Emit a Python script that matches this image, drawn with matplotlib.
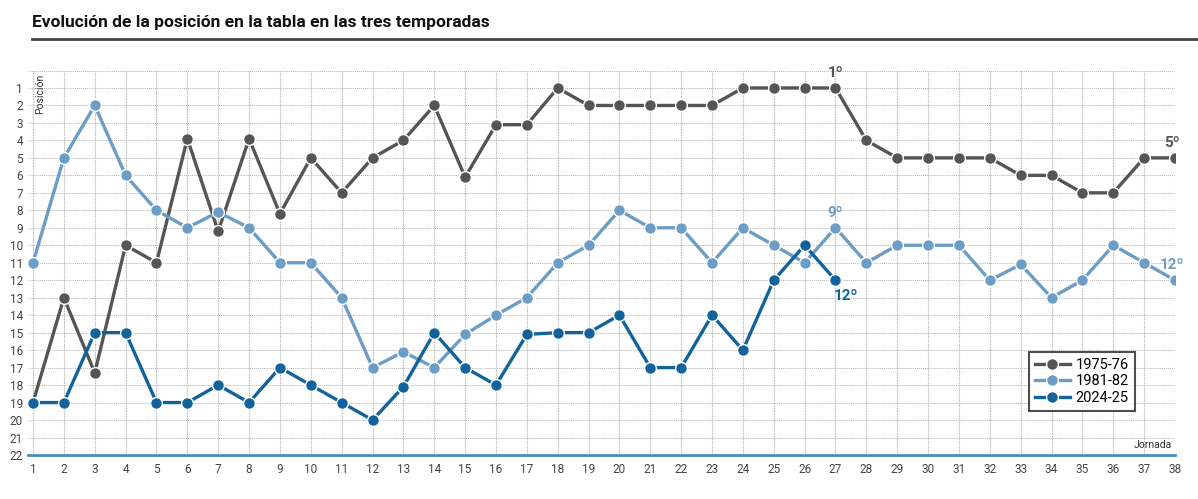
import matplotlib
matplotlib.use("Agg")
import matplotlib.pyplot as plt
from matplotlib.lines import Line2D

plt.rcParams['font.family'] = ['Roboto', 'DejaVu Sans']

jornadas = list(range(1, 39))
pos_1975 = [19, 13, 17.3, 10, 11, 3.9, 9.2, 3.9, 8.2, 5, 7, 5, 4, 2, 6.1, 3.1, 3.1, 1, 2, 2,
            2, 2, 2, 1, 1, 1, 1, 4, 5, 5, 5, 5, 6, 6, 7, 7, 5, 5]
pos_1981 = [11, 5, 2, 6, 8, 9, 8.1, 9, 11, 11, 13, 17, 16.1, 17, 15.1, 14, 13, 11, 10, 8,
            9, 9, 11, 9, 10, 11, 9, 11, 10, 10, 10, 12, 11.1, 13, 12, 10, 11, 12]
pos_2024 = [19, 19, 15, 15, 19, 19, 18, 19, 17, 18, 19, 20, 18.1, 15, 17, 18, 15.1, 15, 15, 14,
            17, 17, 14, 16, 12, 10, 12]
series_labels = ['1975-76', '1981-82', '2024-25']
colors = ['#555555', '#6b9dc6', '#12639b']
y_ticks = list(range(1, 23))

fig = plt.figure(figsize=(11.98, 4.99), dpi=100)
ax = fig.add_axes([0.0237, 0.0882, 0.9571, 0.7705])

ax.set_xlim(0.85, 38)
ax.set_ylim(22, 0)

# grid
for x in jornadas:
    ax.axvline(x, color='#bdbdbd', lw=0.8, ls=(0, (1.5, 0.8)), zorder=0)
for y in range(0, 22):
    ax.axhline(y, color='#b5b5b5', lw=0.7, ls=(0, (1, 1)), zorder=0)

for data, c, lab in zip([pos_1975, pos_1981, pos_2024], colors, series_labels):
    ax.plot(jornadas[:len(data)], data, color=c, lw=2.4, marker='o', ms=8.5,
            mec='white', mew=1.0, label=lab, zorder=3)

for s in ['top', 'right', 'left']:
    ax.spines[s].set_visible(False)
ax.spines['bottom'].set_color('#4a8fc0')
ax.spines['bottom'].set_linewidth(2)

ax.set_xticks(jornadas)
ax.set_xticklabels([str(j) for j in jornadas], fontsize=8.5, color='#444444')
ax.set_yticks(y_ticks)
ax.set_yticklabels([str(v) for v in y_ticks], fontsize=8.5, color='#444444')
ax.tick_params(axis='both', length=0, pad=6)
ax.tick_params(axis='y', pad=4)

# annotations
ax.text(27, 0.55, '1º', color='#555555', fontsize=11, fontweight='bold', ha='center', va='bottom')
ax.text(27, 8.55, '9º', color='#6b9dc6', fontsize=11, fontweight='bold', ha='center', va='bottom')
ax.text(27.35, 12.5, '12º', color='#12639b', fontsize=11, fontweight='bold', ha='center', va='top')
ax.text(37.9, 4.55, '5º', color='#555555', fontsize=11, fontweight='bold', ha='center', va='bottom')
ax.text(37.9, 11.55, '12º', color='#6b9dc6', fontsize=11, fontweight='bold', ha='center', va='bottom')

ax.text(1.08, 0.2, 'Posición', rotation=90, fontsize=7.5, color='#333333', ha='left', va='top')
ax.text(37.9, 21.7, 'Jornada', fontsize=7.5, color='#333333', ha='right', va='bottom')

handles = [Line2D([0], [0], color=c, lw=2.4, marker='o', ms=8.5, mec='white', mew=1.0)
           for c in colors]
leg = fig.legend(handles, series_labels, loc='upper left', bbox_to_anchor=(0.859, 0.295),
                 fontsize=10.5, frameon=True, fancybox=False, edgecolor='#222222',
                 handlelength=2.4, borderpad=0.4, labelspacing=0.18, handletextpad=0.4,
                 borderaxespad=0)
leg.get_frame().set_linewidth(1.5)

fig.text(0.0267, 0.955, 'Evolución de la posición en la tabla en las tres temporadas',
         fontsize=12.5, fontweight='bold', color='#111111', ha='left', va='center')
fig.add_artist(Line2D([0.0267, 1.0], [0.922, 0.922], color='#444444', lw=2,
                      transform=fig.transFigure))

fig.savefig('out.png', dpi=100)
